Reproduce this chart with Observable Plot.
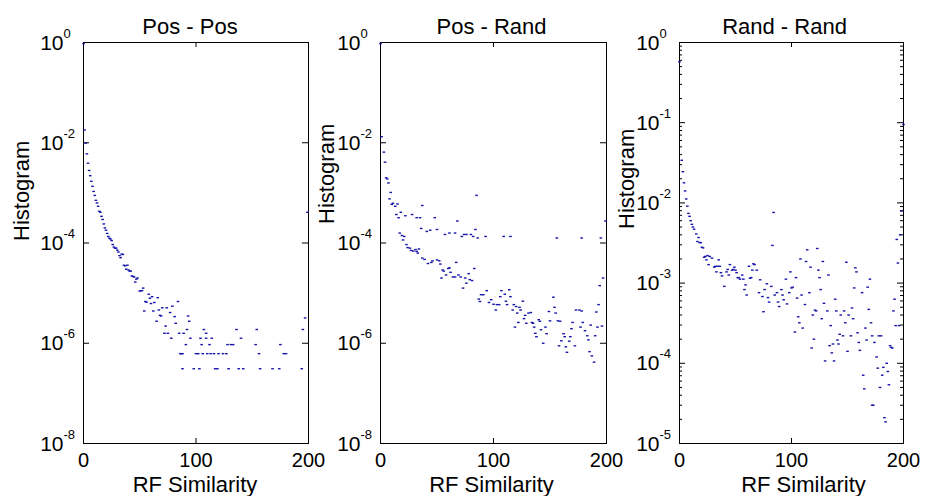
<!DOCTYPE html>
<html><head><meta charset="utf-8">
<script src="https://cdn.jsdelivr.net/npm/d3@7"></script>
<script src="https://cdn.jsdelivr.net/npm/@observablehq/plot@0.6"></script>
<style>
html,body{margin:0;padding:0;background:#fff;}
#chart{position:relative;width:925px;height:496px;overflow:hidden;background:#fff;}
#chart svg{position:absolute;top:0;overflow:visible;background:transparent;}
</style></head><body><div id="chart"></div>
<script>
const titles = ["Pos - Pos", "Pos - Rand", "Rand - Rand"];
const xLabel = "RF Similarity";
const yLabel = "Histogram";
const xTicks = [0, 100, 200];
const xTickLabels = ["0", "100", "200"];
const yTicksWide = [1, 1e-2, 1e-4, 1e-6, 1e-8];
const yExpWide = ["0", "-2", "-4", "-6", "-8"];
const yTicksRR = [1, 1e-1, 1e-2, 1e-3, 1e-4, 1e-5];
const yExpRR = ["0", "-1", "-2", "-3", "-4", "-5"];

// Pos - Pos
const posPosX = [0,1,2,3,4,5,6,7,8,9,10,11,12,13,14,15,16,17,18,19,20,21,22,23,24,25,26,27,28,29,30,31,32,33,34,35,36,37,38,39,40,41,42,43,44,45,46,47,48,50,51,52,53,54,55,56,58,59,60,61,62,63,65,66,67,68,69,70,72,73,74,75,77,78,79,81,82,84,85,86,87,88,88,89,91,92,93,94,95,98,100,102,103,104,105,106,107,109,109,110,112,113,114,116,117,119,120,124,127,128,129,131,133,136,138,140,142,153,154,156,157,168,174,175,178,180,194,195,197,199];
const posPosY = [0.95,1.8e-2,9.8e-3,6.0e-3,3.9e-3,2.8e-3,2.2e-3,1.7e-3,1.35e-3,1.07e-3,8.9e-4,7.1e-4,6.3e-4,5.4e-4,4.3e-4,4.1e-4,3.4e-4,2.95e-4,2.4e-4,2.0e-4,1.8e-4,1.55e-4,1.35e-4,1.25e-4,1.2e-4,1.12e-4,9.3e-5,8.3e-5,7.9e-5,7.9e-5,7.2e-5,6.6e-5,5.6e-5,5.1e-5,6.0e-5,5.9e-5,3.6e-5,3.5e-5,3.0e-5,3.6e-5,2.9e-5,2.75e-5,2.75e-5,2.2e-5,2.15e-5,2.1e-5,1.66e-5,1.9e-5,2.0e-5,1.1e-5,1.12e-5,1.12e-5,1.26e-5,4.4e-6,6.8e-6,6.6e-6,9.5e-6,7.9e-6,6.2e-6,8.5e-6,4.4e-6,6.5e-6,2.75e-6,8.1e-6,4.6e-6,3.6e-6,3.5e-6,5.1e-6,1.58e-6,2.2e-6,5.1e-6,1.58e-6,4.1e-6,1.26e-6,5.5e-6,3.4e-6,2.5e-6,6.8e-6,1.58e-6,6.2e-7,6.2e-7,6.2e-7,3.1e-7,1.58e-6,9.4e-7,1.88e-6,3.5e-6,2.75e-6,1.26e-6,3.1e-7,6.2e-7,6.2e-7,3.1e-7,1.26e-6,9.4e-7,6.2e-7,1.88e-6,1.58e-6,1.26e-6,6.2e-7,9.4e-7,6.2e-7,1.26e-6,6.2e-7,3.1e-7,3.1e-7,6.2e-7,6.2e-7,6.2e-7,9.4e-7,3.1e-7,9.4e-7,9.4e-7,1.88e-6,3.1e-7,1.26e-6,3.1e-7,9.4e-7,1.88e-6,6.2e-7,3.1e-7,3.1e-7,3.1e-7,9.4e-7,6.2e-7,6.2e-7,3.1e-7,1.88e-6,3.2e-6,4.1e-4];

// Pos - Rand
const posRandX = [0,1,3,4,5,6,7,8,9,10,11,13,14,15,16,18,22,28,32,35,37,36,41,44,48,50,57,61,66,68,72,74,76,80,82,84,85,86,93,109,115,156,178,195,199,
17,19,20,21,23,24,26,27,29,31,32,33,34,37,39,42,45,46,50,52,53,54,55,56,58,60,61,62,64,66,67,69,71,73,75,76,78,79,81,83,87,88,89,91,94,96,98,100,102,103,105,106,107,110,111,112,114,115,117,118,119,120,121,122,123,124,126,127,128,129,131,133,134,135,136,137,138,140,141,142,144,146,147,149,150,153,154,155,157,158,159,160,162,163,164,165,167,168,169,170,172,173,176,177,178,179,181,183,184,185,186,187,189,190,191,192,193,194,196,197];
const posRandY = [0.95,1.32e-2,6.5e-3,4.1e-3,2.0e-3,1.9e-3,1.58e-3,7.6e-4,1.02e-3,5.9e-4,6.2e-4,5.4e-4,3.7e-4,6.0e-4,3.2e-4,4.1e-4,3.5e-4,3.7e-4,3.2e-4,3.2e-4,5.6e-4,1.95e-4,1.7e-4,1.8e-4,3.2e-4,1.86e-4,1.48e-4,1.58e-4,1.58e-4,2.75e-4,1.35e-4,1.48e-4,1.48e-4,1.48e-4,1.35e-4,1.86e-4,8.9e-4,1.26e-4,1.35e-4,1.35e-4,1.35e-4,1.26e-4,1.26e-4,1.26e-4,2.75e-4,
1.58e-4,1.41e-4,1.15e-4,1.35e-4,9.3e-5,8.1e-5,7.9e-5,7.1e-5,6.9e-5,7.4e-5,6.8e-5,6.3e-5,7.6e-5,5.0e-5,4.7e-5,3.9e-5,4.1e-5,4.4e-5,4.6e-5,4.4e-5,3.8e-5,2.0e-5,2.9e-5,2.75e-5,2.3e-5,3.1e-5,3.2e-5,2.6e-5,2.1e-5,2.1e-5,4.1e-5,2.3e-5,2.1e-5,1.26e-5,2.0e-5,1.58e-5,2.45e-5,1.86e-5,1.78e-5,3.1e-5,7.6e-6,6.8e-6,9.3e-6,9.3e-6,1.12e-5,6.5e-6,7.4e-6,6.0e-6,4.6e-6,5.9e-6,5.9e-6,8.5e-6,1.12e-5,9.5e-6,6.9e-6,5.9e-6,1.17e-5,8.5e-6,4.6e-6,5.9e-6,2.1e-6,5.4e-6,4.0e-6,2.6e-6,5.2e-6,4.6e-6,6.9e-6,3.1e-6,3.6e-6,2.5e-6,4.0e-6,4.1e-6,2.6e-6,2.5e-6,2.1e-6,1.58e-6,1.35e-6,2.95e-6,2.75e-6,1.86e-6,1.0e-6,2.1e-6,1.55e-6,4.3e-6,2.8e-6,8.3e-6,5.2e-6,4.0e-6,2.8e-6,8.9e-7,2.75e-6,1.12e-6,1.55e-6,1.35e-6,8.5e-7,6.6e-7,1.1e-6,1.35e-6,1.95e-6,2.6e-6,8.9e-7,4.6e-6,4.6e-6,2.1e-6,4.4e-6,2.6e-6,1.78e-6,1.41e-6,1.17e-6,6.8e-7,2.3e-6,5.6e-7,4.2e-7,1.41e-6,4.2e-6,2.1e-6,5.9e-6,1.41e-5,2.2e-6,2.0e-5];

// Rand - Rand
const randRandX = [0,2,3,4,5,6,7,8,9,10,11,12,13,15,16,17,18,19,20,21,22,23,24,25,26,27,29,31,32,33,34,35,36,37,38,40,42,43,44,45,47,48,49,50,51,52,53,54,56,57,58,59,60,62,63,64,65,66,67,69,71,72,74,75,76,78,79,80,82,83,84,85,87,88,89,91,92,93,95,96,98,99,100,101,103,104,105,106,107,108,109,110,112,113,114,116,117,118,119,120,121,122,123,124,125,126,127,128,129,130,132,133,134,135,136,137,138,139,140,141,142,143,144,146,147,148,149,150,151,153,154,155,156,157,158,159,160,161,163,164,165,166,167,168,169,170,171,172,172,173,174,176,177,178,179,180,181,182,183,184,185,186,187,188,189,190,191,192,193,194,195,196,197,198,200];
const randRandY = [0.575,3.4e-2,2.45e-2,1.78e-2,1.41e-2,1.12e-2,9.1e-3,7.4e-3,6.8e-3,6.0e-3,5.4e-3,5.0e-3,4.7e-3,4.1e-3,3.3e-3,3.7e-3,3.2e-3,3.2e-3,2.8e-3,2.75e-3,2.1e-3,2.15e-3,1.95e-3,2.2e-3,1.7e-3,2.15e-3,2.05e-3,1.58e-3,1.62e-3,1.38e-3,1.62e-3,1.95e-3,1.62e-3,1.35e-3,1.23e-3,9.1e-4,1.38e-3,1.48e-3,1.26e-3,1.7e-3,1.45e-3,1.48e-3,1.58e-3,1.45e-3,1.35e-3,1.17e-3,1.17e-3,1.12e-3,1.26e-3,1.12e-3,8.3e-4,9.5e-4,7.1e-4,1.62e-3,1.15e-3,1.17e-3,1.45e-3,1.74e-3,1.7e-3,1.45e-3,7.6e-4,1.1e-3,6.8e-4,4.4e-4,8.3e-4,9.8e-4,6.6e-4,5.8e-4,9.1e-4,2.95e-3,7.6e-3,7.1e-4,7.6e-4,5.8e-4,5.1e-4,8.3e-4,7.1e-4,6.2e-4,1.12e-3,5.5e-4,7.6e-4,1.38e-3,8.7e-4,8.9e-4,2.45e-4,1.17e-3,6.5e-4,3.8e-4,3.2e-4,2.0e-3,7.1e-4,2.75e-4,5.4e-4,1.86e-3,2.6e-3,7.6e-4,1.58e-3,1.55e-4,4.0e-4,2.0e-4,4.6e-4,4.5e-4,2.7e-3,1.45e-3,1.17e-3,8.3e-4,3.6e-4,1.86e-3,5.6e-4,1.07e-4,4.5e-4,1.26e-3,1.66e-4,2.95e-4,1.35e-4,1.74e-4,1.07e-4,6.3e-4,4.5e-4,1.95e-4,1.74e-4,2.3e-4,4.0e-4,2.2e-4,4.5e-4,3.2e-4,1.82e-3,1.41e-4,4.0e-4,2.2e-4,4.9e-4,3.6e-4,8.7e-4,1.55e-3,1.38e-3,2.4e-4,1.82e-4,1.45e-4,7.6e-4,7.1e-5,4.8e-5,2.75e-4,1.95e-4,8.9e-4,4.7e-4,1.12e-3,3.2e-4,3.0e-5,2.2e-4,3.0e-5,1.82e-4,1.2e-4,8.7e-5,2.2e-4,5.0e-5,2.2e-4,7.1e-5,8.9e-5,2.1e-5,1.86e-5,1.0e-4,7.9e-5,5.4e-5,1.66e-4,1.58e-4,1.55e-4,4.5e-4,6.3e-4,2.95e-4,3.5e-3,1.78e-3,2.95e-4,4.0e-3,7.9e-3,9.5e-2];

const FONT = "'Liberation Sans', Arial, Helvetica, sans-serif";
const POINT = "#1414a8";
const dash = {draw(ctx) { ctx.moveTo(-1.3, -0.7); ctx.lineTo(1.3, -0.7); ctx.lineTo(1.3, 0.7); ctx.lineTo(-1.3, 0.7); ctx.closePath(); }};

function panel(o) {
  const data = o.x.map((d, i) => ({x: d, y: o.y[i]}));
  const H = 496, mT = 42, mB = 53;
  const fw = o.width - o.mL - o.mR, fh = H - mT - mB;
  const marks = [
    Plot.frame({stroke: "#000", strokeWidth: 1}),
    Plot.ruleX(xTicks, {x: d => d, insetTop: fh - 5, stroke: "#000"}),
    Plot.ruleX(xTicks, {x: d => d, insetBottom: fh - 5, stroke: "#000"}),
    Plot.ruleY(o.yTicks, {y: d => d, insetRight: fw - 6, stroke: "#000"}),
    Plot.ruleY(o.yTicks, {y: d => d, insetLeft: fw - 6, stroke: "#000"})
  ];
  if (o.minor) {
    const lo = Math.log10(o.yDomain[0]), hi = Math.log10(o.yDomain[1]);
    const minorTicks = [];
    for (let k = lo; k < hi; k++) for (let m = 2; m <= 9; m++) minorTicks.push(m * Math.pow(10, k));
    marks.push(
      Plot.ruleY(minorTicks, {y: d => d, insetRight: fw - 3, stroke: "#000"}),
      Plot.ruleY(minorTicks, {y: d => d, insetLeft: fw - 3, stroke: "#000"})
    );
  }
  marks.push(
    Plot.dot(data, {x: "x", y: "y", symbol: dash, r: 1, fill: POINT, stroke: "none"}),
    Plot.text(o.yTicks, {y: d => d, text: () => "10", frameAnchor: "left", textAnchor: "end", lineAnchor: "bottom", dx: -20, dy: 7, fontSize: 21, fill: "#000"}),
    Plot.text(o.yTicks, {y: d => d, text: (d, i) => o.yExp[i], frameAnchor: "left", textAnchor: "start", lineAnchor: "bottom", dx: -20, dy: -5, fontSize: 13, fill: "#000"}),
    Plot.text(xTicks, {x: d => d, text: (d, i) => xTickLabels[i], frameAnchor: "bottom", lineAnchor: "bottom", dy: 23, fontSize: 20, fill: "#000"}),
    Plot.text([xLabel], {text: d => d, frameAnchor: "bottom", lineAnchor: "bottom", dx: o.xLabDx, dy: 48, fontSize: 22, fill: "#000"}),
    Plot.text([o.title], {text: d => d, frameAnchor: "top", lineAnchor: "bottom", dx: o.titleDx, dy: -9, fontSize: 22, fill: "#000"}),
    Plot.text([yLabel], {text: d => d, frameAnchor: "left", rotate: -90, lineAnchor: "bottom", dx: o.yLabDx, dy: o.yLabDy, fontSize: 22, fill: "#000"})
  );
  const svg = Plot.plot({
    width: o.width, height: H,
    marginLeft: o.mL, marginRight: o.mR, marginTop: mT, marginBottom: mB,
    x: {domain: [0, 200], axis: null},
    y: {type: "log", domain: o.yDomain, axis: null},
    style: {fontFamily: FONT, fontSize: "21px", background: "transparent", overflow: "visible"},
    marks
  });
  svg.style.left = o.left + "px";
  document.getElementById("chart").appendChild(svg);
}

panel({x: posPosX, y: posPosY, yDomain: [1e-8, 1], yTicks: yTicksWide, yExp: yExpWide, minor: false,
  title: titles[0], left: 0, width: 315, mL: 83, mR: 7, titleDx: -6, xLabDx: -1, yLabDx: -55, yLabDy: -2});
panel({x: posRandX, y: posRandY, yDomain: [1e-8, 1], yTicks: yTicksWide, yExp: yExpWide, minor: false,
  title: titles[1], left: 315, width: 296, mL: 65, mR: 5, titleDx: -2, xLabDx: -2, yLabDx: -47, yLabDy: -19});
panel({x: randRandX, y: randRandY, yDomain: [1e-5, 1], yTicks: yTicksRR, yExp: yExpRR, minor: true,
  title: titles[2], left: 611, width: 314, mL: 68, mR: 22, titleDx: -7, xLabDx: 12, yLabDx: -46, yLabDy: -14});
</script></body></html>
